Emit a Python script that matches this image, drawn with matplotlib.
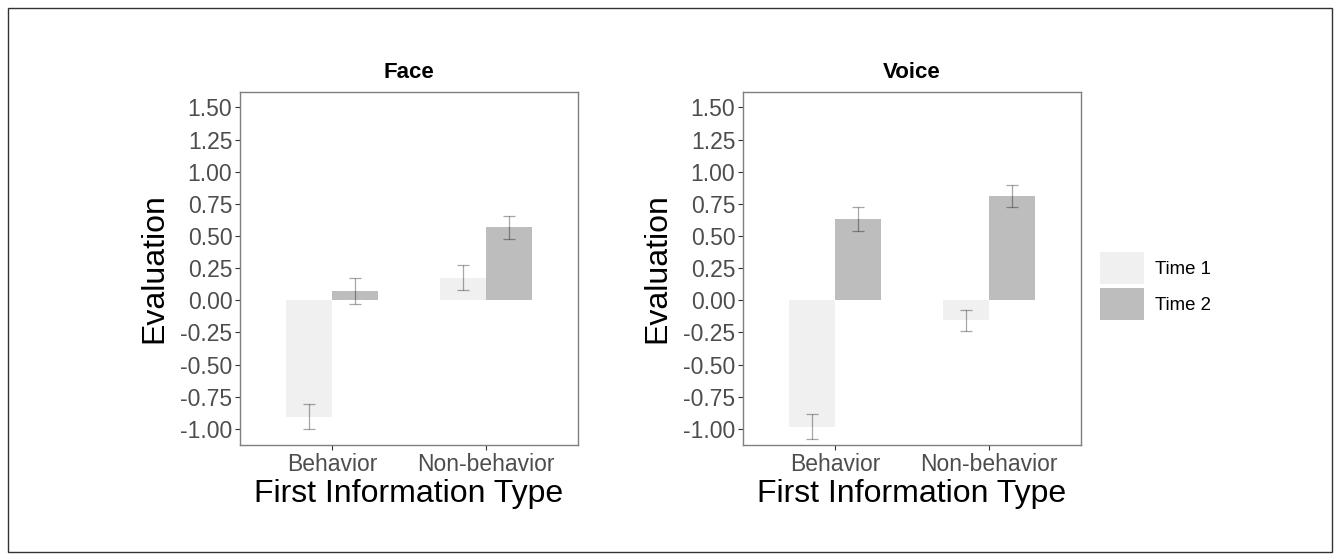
import matplotlib
matplotlib.use("Agg")
import matplotlib.pyplot as plt
from matplotlib.patches import Patch, Rectangle
import numpy as np

plt.rcParams['font.family'] = ['Liberation Sans', 'DejaVu Sans']

categories = ["Behavior", "Non-behavior"]
panels = ["Face", "Voice"]
times = ["Time 1", "Time 2"]

face_time1 = [-0.905, 0.176]
face_time2 = [0.072, 0.568]
face_se1 = [0.100, 0.100]
face_se2 = [0.104, 0.091]

voice_time1 = [-0.983, -0.156]
voice_time2 = [0.633, 0.812]
voice_se1 = [0.095, 0.082]
voice_se2 = [0.096, 0.083]

y_ticks = [1.50, 1.25, 1.00, 0.75, 0.50, 0.25, 0.00, -0.25, -0.50, -0.75, -1.00]

colors = ["#F0F0F0", "#BDBDBD"]
W, H = 1340, 560

fig = plt.figure(figsize=(W / 100, H / 100), dpi=100)

# outer frame around the whole figure
fig.patches.append(Rectangle((8 / W, 8 / H), 1 - 16 / W, 1 - 16 / H,
                             transform=fig.transFigure, fill=False,
                             edgecolor="#333333", linewidth=1.0))

axes_px = [(240, 92, 578, 445), (743, 92, 1081, 445)]
data = [
    (face_time1, face_time2, face_se1, face_se2),
    (voice_time1, voice_time2, voice_se1, voice_se2),
]

bar_w = 0.3
x = np.arange(1, len(categories) + 1)

for (l, t, r, b), title, (v1, v2, s1, s2) in zip(axes_px, panels, data):
    ax = fig.add_axes([l / W, 1 - b / H, (r - l) / W, (b - t) / H])
    for offs, vals, ses, c in ((-bar_w / 2, v1, s1, colors[0]),
                               (bar_w / 2, v2, s2, colors[1])):
        ax.bar(x + offs, vals, width=bar_w, color=c, edgecolor="none", zorder=2)
        ax.errorbar(x + offs, vals, yerr=ses, fmt="none", ecolor="black",
                    alpha=0.35, elinewidth=0.9, capsize=4.3, capthick=0.9,
                    zorder=3)
    ax.set_xlim(0.4, 2.6)
    ax.set_ylim(-1.126, 1.62)
    ax.set_xticks(x)
    ax.set_xticklabels(categories)
    ax.set_yticks(y_ticks)
    ax.set_yticklabels([f"{v:.2f}" for v in y_ticks])
    ax.tick_params(axis="both", labelsize=16.5, colors="#333333",
                   labelcolor="#4D4D4D", length=3.3, width=0.8, pad=2.2)
    for sp in ax.spines.values():
        sp.set_color("#7F7F7F")
        sp.set_linewidth(1.0)
    ax.set_title(title, fontsize=16, fontweight="bold", pad=10)
    ax.set_ylabel("Evaluation", fontsize=23, labelpad=7.5)
    ax.set_xlabel("First Information Type", fontsize=23, labelpad=2.5)

handles = [Patch(facecolor=c, edgecolor="none", label=lab)
           for c, lab in zip(colors, times)]
fig.legend(handles=handles, loc="upper left",
           bbox_to_anchor=(1100 / W, 1 - 252 / H), frameon=False,
           fontsize=13.4, handlelength=2.37, handleheight=2.27,
           labelspacing=0.2, handletextpad=0.6, borderaxespad=0,
           borderpad=0)

fig.savefig("out.png", dpi=100)
